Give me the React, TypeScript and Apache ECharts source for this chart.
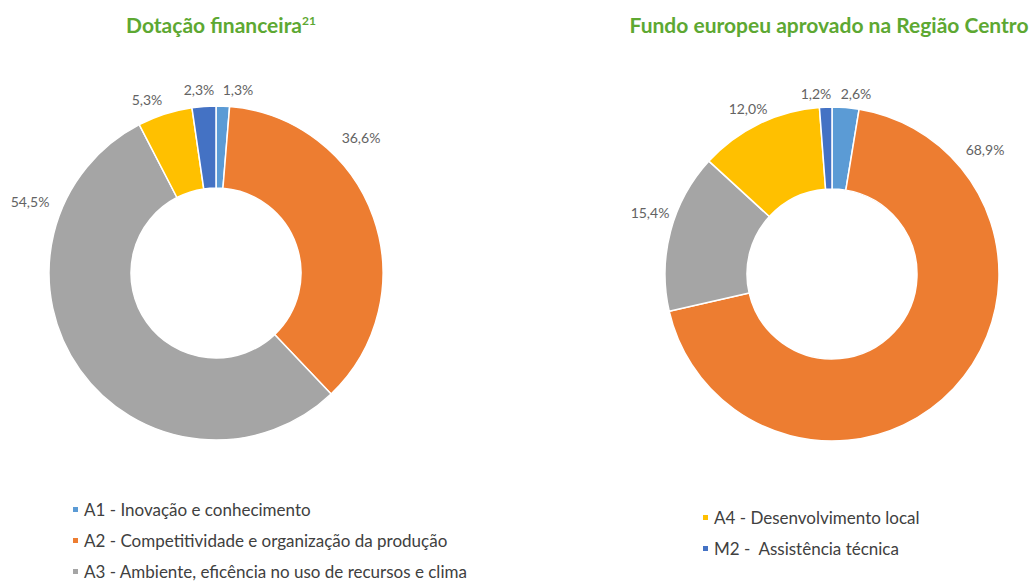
import React, { useEffect, useRef } from "react";
import * as echarts from "echarts";

const categories = [
  "A1 - Inovação e conhecimento",
  "A2 - Competitividade e organização da produção",
  "A3 - Ambiente, eficência no uso de recursos e clima",
  "A4 - Desenvolvimento local",
  "M2 -  Assistência técnica",
];
const colors = ["#5B9BD5", "#ED7D31", "#A5A5A5", "#FFC000", "#4472C4"];
const dotacaoValues = [1.3, 36.6, 54.5, 5.3, 2.3];
const fundoValues = [2.6, 68.9, 15.4, 12.0, 1.2];

// label anchor positions (px) for each slice label, per chart
const dotacaoLabelPos = [
  [238, 89],
  [361, 137],
  [30, 201],
  [147, 99],
  [199, 89],
];
const fundoLabelPos = [
  [856, 93],
  [985, 149],
  [650, 212],
  [748, 108],
  [816, 93],
];

const fmt = (v: number) => v.toFixed(1).replace(".", ",") + "%";

export default function App() {
  const ref = useRef<HTMLDivElement>(null);
  useEffect(() => {
    document.body.style.margin = "0";
    const chart = echarts.init(ref.current!, null, { renderer: "svg" });
    const font = "Lato, 'Open Sans', sans-serif";
    const mkData = (vals: number[]) =>
      vals.map((v, i) => ({ name: categories[i], value: v, itemStyle: { color: colors[i] } }));
    const mkSeries = (vals: number[], center: number[], pos: number[][]) => ({
      type: "pie",
      center,
      radius: [85, 167],
      startAngle: 90,
      clockwise: true,
      data: mkData(vals),
      itemStyle: { borderColor: "#ffffff", borderWidth: 1.5 },
      label: {
        show: true,
        position: "outside",
        formatter: (p: any) => fmt(p.value),
        color: "#636363",
        fontSize: 14,
        fontFamily: font,
        overflow: "none",
        width: 80,
      },
      labelLine: { show: false },
      labelLayout: (p: any) => ({
        x: pos[p.dataIndex][0],
        y: pos[p.dataIndex][1],
        align: "center",
        verticalAlign: "middle",
        width: 80,
      }),
      emphasis: { disabled: true },
    });
    const legendText = { fontSize: 17, color: "#404040", fontFamily: font };
    chart.setOption({
      animation: false,
      color: colors,
      title: [
        {
          text: "{t|Dotação financeira}{s|21}",
          left: 216,
          top: 9,
          textAlign: "center",
          textStyle: {
            rich: {
              t: { fontSize: 21, fontWeight: "bold", color: "#5DA832", fontFamily: font },
              s: { fontSize: 12, fontWeight: "bold", color: "#5DA832", fontFamily: font, verticalAlign: "top", padding: [0, 0, 9, 0] },
            },
          },
        },
        {
          text: "Fundo europeu aprovado na Região Centro",
          left: 824,
          top: 9,
          textAlign: "center",
          textStyle: { fontSize: 21, fontWeight: "bold", color: "#5DA832", fontFamily: font },
        },
      ],
      legend: [
        {
          orient: "vertical",
          left: 66,
          top: 496,
          height: 90,
          itemWidth: 7,
          itemHeight: 7,
          itemGap: 14,
          icon: "rect",
          data: categories.slice(0, 3),
          textStyle: legendText,
          selectedMode: false,
        },
        {
          orient: "vertical",
          left: 696,
          top: 504,
          height: 70,
          itemWidth: 7,
          itemHeight: 7,
          itemGap: 14,
          icon: "rect",
          data: categories.slice(3),
          textStyle: legendText,
          selectedMode: false,
        },
      ],
      series: [
        mkSeries(dotacaoValues, [216, 273], dotacaoLabelPos),
        mkSeries(fundoValues, [832, 274], fundoLabelPos),
      ],
    });
    return () => chart.dispose();
  }, []);
  return <div ref={ref} style={{ width: 1033, height: 581 }} />;
}
